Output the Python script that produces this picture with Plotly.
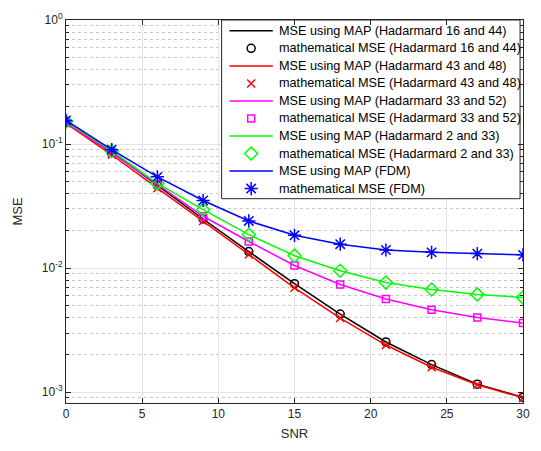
import plotly.graph_objects as go

# SNR sweep (dB)
snr = [0, 3, 6, 9, 12, 15, 18, 21, 24, 27, 30]

# MSE curves per index pair
mse_h16_44 = [0.152, 0.0865, 0.0464, 0.0249, 0.0136, 0.0075, 0.00426, 0.00254, 0.00167, 0.00116, 0.00091]
mse_h43_48 = [0.147, 0.0820, 0.0441, 0.0240, 0.0129, 0.00694, 0.00396, 0.00240, 0.00159, 0.00115, 0.00090]
mse_h33_52 = [0.149, 0.0850, 0.0474, 0.0262, 0.0164, 0.0105, 0.00738, 0.00564, 0.00462, 0.00400, 0.00361]
mse_h2_33 = [0.152, 0.0880, 0.0482, 0.0296, 0.0186, 0.0126, 0.00952, 0.00765, 0.00673, 0.00614, 0.00581]
mse_fdm = [0.155, 0.0901, 0.0544, 0.0351, 0.0240, 0.0184, 0.0156, 0.0140, 0.0134, 0.0131, 0.0128]

# axis ticks
x_ticks = [0, 5, 10, 15, 20, 25, 30]
y_ticks = [0.001, 0.01, 0.1, 1]
y_tick_text = ["10<sup>-3</sup>", "10<sup>-2</sup>", "10<sup>-1</sup>", "10<sup>0</sup>"]
y_minor = [m * d for d in (0.0001, 0.001, 0.01, 0.1) for m in range(2, 10)]

series = [
    ("Hadarmard 16 and 44", mse_h16_44, "#000000", "circle-open", 8),
    ("Hadarmard 43 and 48", mse_h43_48, "#FF0000", "x-thin-open", 8),
    ("Hadarmard 33 and 52", mse_h33_52, "#FF00FF", "square-open", 7),
    ("Hadarmard 2 and 33", mse_h2_33, "#00FF00", "diamond-open", 10),
    ("FDM", mse_fdm, "#0000FF", "asterisk-open", 11),
]

FONT = "Liberation Sans, Arial, sans-serif"
axis_font = dict(family=FONT, size=12, color="#262626")
title_font = dict(family=FONT, size=13, color="#262626")

# Figure geometry (pixels)
W, H = 541, 451
M_L, M_R, M_T, M_B = 66, 11, 14, 48
PX0, PX1 = M_L, W - M_R          # plot area, horizontal
PY0, PY1 = M_T, H - M_B          # plot area, vertical (top, bottom)

# Legend box geometry (pixels, top-left origin)
LEG_X0, LEG_X1 = 224, 527
LEG_Y0, LEG_Y1 = PY0, 195.5
LEG_ROW0, LEG_ROW_STEP = 25, 17.8
LEG_LINE_X0, LEG_LINE_X1 = 232, 276
LEG_MARK_X = 254
LEG_TEXT_X = 280

fig = go.Figure()
for name, vals, color, symbol, msize in series:
    fig.add_trace(go.Scatter(
        x=snr, y=vals, mode="lines",
        line=dict(color=color, width=1.5),
        name=f"MSE using MAP ({name})", showlegend=False,
    ))
    fig.add_trace(go.Scatter(
        x=snr, y=vals, mode="markers",
        marker=dict(symbol=symbol, size=msize, color=color,
                    line=dict(color=color, width=1.5)),
        name=f"mathematical MSE ({name})", showlegend=False,
    ))

# Legend drawn on an overlay axis pair measured in pixels
fig.add_trace(go.Scatter(
    x=[LEG_X0, LEG_X1, LEG_X1, LEG_X0, LEG_X0],
    y=[LEG_Y0, LEG_Y0, LEG_Y1, LEG_Y1, LEG_Y0],
    mode="lines", fill="toself", fillcolor="white",
    line=dict(color="#262626", width=1),
    xaxis="x2", yaxis="y2", showlegend=False, hoverinfo="skip",
))
row = 0
for name, vals, color, symbol, msize in series:
    y_line = LEG_ROW0 + LEG_ROW_STEP * row
    y_mark = LEG_ROW0 + LEG_ROW_STEP * (row + 1)
    fig.add_trace(go.Scatter(
        x=[LEG_LINE_X0, LEG_LINE_X1], y=[y_line, y_line], mode="lines",
        line=dict(color=color, width=1.5),
        xaxis="x2", yaxis="y2", showlegend=False, hoverinfo="skip",
    ))
    fig.add_trace(go.Scatter(
        x=[LEG_MARK_X], y=[y_mark], mode="markers",
        marker=dict(symbol=symbol, size=msize, color=color,
                    line=dict(color=color, width=1.5)),
        xaxis="x2", yaxis="y2", showlegend=False, hoverinfo="skip",
    ))
    for label, yy in ((f"MSE using MAP ({name})", y_line),
                      (f"mathematical MSE ({name})", y_mark)):
        fig.add_annotation(
            x=LEG_TEXT_X, y=yy, xref="x2", yref="y2",
            text=label, showarrow=False, xanchor="left", yanchor="middle",
            font=dict(family=FONT, size=12.7, color="#000000"),
        )
    row += 2

fig.update_xaxes(
    range=[0, 30], tickvals=x_ticks,
    showline=True, linecolor="#262626", linewidth=1, mirror="ticks",
    ticks="inside", ticklen=5, tickcolor="#262626",
    showgrid=True, gridcolor="#e3e3e3", gridwidth=1,
    zeroline=False, tickfont=axis_font,
    title=dict(text="SNR", font=title_font, standoff=8),
)
fig.update_yaxes(
    type="log", range=[-3.087, 0],
    tickvals=y_ticks, ticktext=y_tick_text,
    showline=True, linecolor="#262626", linewidth=1, mirror="ticks",
    ticks="inside", ticklen=5, tickcolor="#262626",
    showgrid=True, gridcolor="#e3e3e3", gridwidth=1,
    minor=dict(tickmode="array", tickvals=y_minor,
               ticks="inside", ticklen=3, tickcolor="#262626",
               showgrid=True, gridcolor="#c8c8c8", griddash="dot", gridwidth=1),
    zeroline=False, tickfont=axis_font,
    title=dict(text="MSE", font=title_font, standoff=16),
)

fig.update_layout(
    width=W, height=H,
    margin=dict(l=M_L, r=M_R, t=M_T, b=M_B),
    paper_bgcolor="white", plot_bgcolor="white",
    font=dict(family=FONT, size=12, color="#000000"),
    showlegend=False,
    xaxis2=dict(overlaying="x", range=[PX0, PX1], visible=False, fixedrange=True),
    yaxis2=dict(overlaying="y", range=[PY1, PY0], visible=False, fixedrange=True),
)

fig.write_html("out.html")
